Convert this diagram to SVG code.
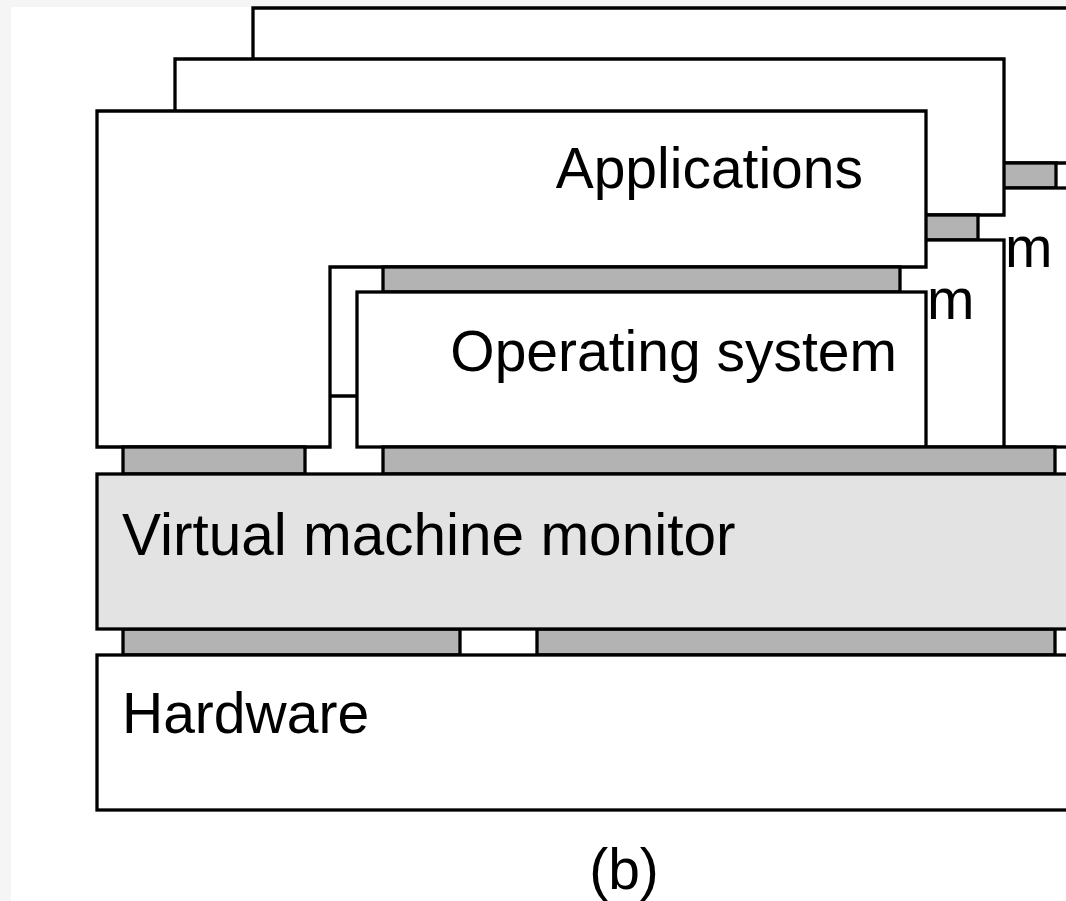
<svg xmlns="http://www.w3.org/2000/svg" width="1066" height="901" viewBox="0 0 1066 901">
<style>
.box{fill:#ffffff;stroke:#000;stroke-width:3.3;stroke-linejoin:miter}
.bar{fill:#b3b3b3;stroke:#000;stroke-width:3.3}
.vmm{fill:#e3e3e3;stroke:#000;stroke-width:3.3}
.lbl{font-family:"Liberation Sans",Arial,Helvetica,sans-serif;font-size:57px;fill:#000}
</style>
<rect x="0" y="0" width="1066" height="901" fill="#f5f5f5"/>
<rect x="11" y="7" width="1055" height="894" fill="#ffffff"/>
<g id="vm3">
<path class="box" d="M253,8 H1082 V163 H486 V344 H253 Z"/>
<rect class="bar" x="539" y="163" width="517" height="25"/>
<rect class="box" x="513" y="188" width="569" height="259"/>
<text class="lbl" x="1005" y="267">m</text>
</g>
<g id="vm2">
<path class="box" d="M175,59 H1004 V215 H408 V396 H175 Z"/>
<rect class="bar" x="461" y="215" width="517" height="25"/>
<rect class="box" x="435" y="240" width="569" height="207"/>
<text class="lbl" x="927" y="319">m</text>
</g>
<g id="vm1">
<g id="applications">
<path class="box" d="M97,111 H926 V267 H330 V447 H97 Z"/>
<text class="lbl" x="863" y="188" text-anchor="end">Applications</text>
</g>
<rect id="app-os-interface" class="bar" x="383" y="267" width="517" height="25"/>
<g id="operating-system">
<rect class="box" x="357" y="292" width="569" height="155"/>
<text class="lbl" x="897" y="371" text-anchor="end">Operating system</text>
</g>
</g>
<g id="connectors">
<rect class="bar" x="123" y="447" width="182" height="27"/>
<rect class="bar" x="383" y="447" width="672" height="27"/>
<rect class="bar" x="123" y="629" width="337" height="26"/>
<rect class="bar" x="537" y="629" width="518" height="26"/>
</g>
<g id="vmm">
<rect class="vmm" x="97" y="474" width="1000" height="155"/>
<text class="lbl" x="122" y="555" style="font-size:58.5px">Virtual machine monitor</text>
</g>
<g id="hardware">
<rect class="box" x="97" y="655" width="1000" height="155"/>
<text class="lbl" x="122" y="733">Hardware</text>
</g>
<text class="lbl" x="624" y="889" text-anchor="middle">(b)</text>
</svg>
